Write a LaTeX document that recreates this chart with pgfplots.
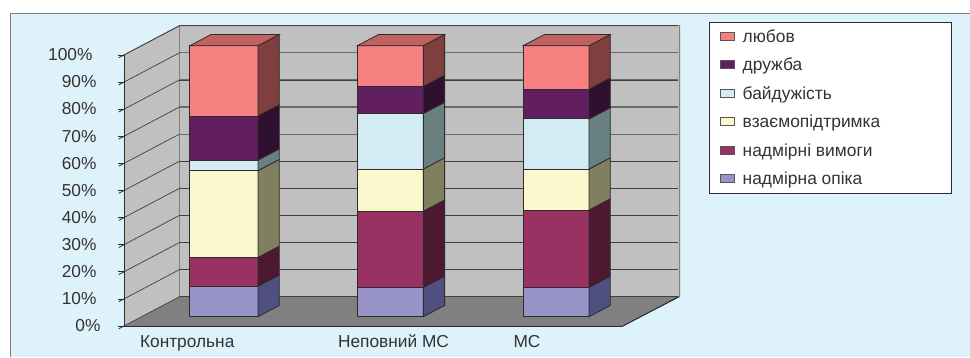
\documentclass[border=0pt]{standalone}
\usepackage{fontspec}
\usepackage{pgfplots}
\pgfplotsset{compat=1.18}
\setmainfont{Liberation Sans}
\definecolor{panel}{HTML}{DDF2FA}
\definecolor{wall}{HTML}{C0C0C0}
\definecolor{floorc}{HTML}{808080}
\definecolor{edge}{HTML}{2E2A2E}
\definecolor{txt}{HTML}{333333}
\definecolor{lovF}{HTML}{F78080}\definecolor{lovS}{HTML}{7F3F3F}\definecolor{lovT}{HTML}{C2625E}
\definecolor{druF}{HTML}{611F5F}\definecolor{druS}{HTML}{30102F}
\definecolor{baiF}{HTML}{D3ECF3}\definecolor{baiS}{HTML}{688080}
\definecolor{vzaF}{HTML}{FBF8CD}\definecolor{vzaS}{HTML}{808060}
\definecolor{vymF}{HTML}{993162}\definecolor{vymS}{HTML}{4D1931}
\definecolor{opiF}{HTML}{9894C7}\definecolor{opiS}{HTML}{4F4F80}
% One stacked segment: x from, x to, lower and upper percentage, front and side colours
\newcommand{\segment}[6]{%
  \addplot3[draw=edge,line width=0.8pt,fill=#5,forget plot] coordinates {(#1,0.317,#3)(#2,0.317,#3)(#2,0.317,#4)(#1,0.317,#4)} -- cycle;
  \addplot3[draw=edge,line width=0.8pt,fill=#6,forget plot] coordinates {(#2,0.317,#3)(#2,0.70,#3)(#2,0.70,#4)(#2,0.317,#4)} -- cycle;
}
% Lid of a column at 100%
\newcommand{\lid}[2]{%
  \addplot3[draw=edge,line width=0.8pt,fill=lovT,forget plot] coordinates {(#1,0.317,100)(#2,0.317,100)(#2,0.70,100)(#1,0.70,100)} -- cycle;
}
\newcommand{\swatch}[1]{\addlegendimage{legend image code/.code={\draw[draw=edge!80,line width=0.7pt,fill=#1] (-1.5pt,-3.4pt) rectangle (13pt,4.6pt);\path (19pt,0pt);}}}
\newcommand{\gapA}{\rule{4pt}{0pt}}
\newcommand{\gapB}{\rule{8pt}{0pt}}
\begin{document}
\begin{tikzpicture}[x=1pt,y=1pt]
\path[use as bounding box,fill=white] (0,0) rectangle (970,357);
% panel behind the chart
\fill[panel] (10.5,0) rectangle (970,344);
\draw[gray,line width=0.9pt] (10.5,0) -- (10.5,344) -- (970,344);
% walls and floor of the chart box
\fill[wall] (124,31) -- (179.5,60.3) -- (179.5,331.3) -- (124,302) -- cycle;
\fill[wall] (179.5,60.3) rectangle (679.5,331.3);
\fill[floorc] (124,31) -- (179.5,60.3) -- (679.5,60.3) -- (623,31) -- cycle;
\draw[gray,line width=1pt] (124,302) -- (179.5,331.3) -- (679.5,331.3) -- (679.5,60.3);
\draw[gray,line width=1pt] (179.5,60.3) -- (179.5,331.3);
\draw[edge,line width=0.6pt] (623,31) -- (679.5,60.3);
% legend box
\draw[edge,fill=white,line width=0.7pt] (709,163.7) rectangle (951,334.7);
\begin{axis}[
  at={(124pt,31pt)},anchor=origin,
  x={(166.33pt,0pt)},y={(55.5pt,29.3pt)},z={(0pt,2.71pt)},
  xmin=0,xmax=3,ymin=0,ymax=1,zmin=0,zmax=100,
  clip=false,
  axis lines=left,
  axis line style={-,draw=edge,line width=0.8pt},
  tick style={draw=edge,line width=0.8pt},
  tick align=outside,
  major tick length=6pt,
  ytick=\empty,
  ztick={0,10,...,100},
  zticklabels={0\%,10\%\gapA,20\%\gapA,30\%\gapA,40\%\gapA,50\%\gapA,60\%\gapA,70\%\gapA,80\%\gapA,90\%\gapA,100\%\gapB},
  z tick label style={anchor=east,inner sep=0pt,xshift=-18pt,yshift=3pt,text=txt,font=\fontsize{17.3}{19}\selectfont},
  zmajorgrids=true,
  grid style={draw=black!75,line width=0.7pt},
  xtick={0.412,1.652,2.455},
  xticklabels={Контрольна,Неповний МС,МС},
  xtick style={draw=none},
  x tick label style={anchor=base,yshift=-19pt,text=txt,font=\fontsize{17.3}{19}\selectfont},
  extra x ticks={0,1,2,3},
  extra x tick labels={},
  extra tick style={draw=edge,line width=0.8pt},
  legend cell align=left,
  legend style={
    at={(axis cs:3.58,0,110.2)},anchor=north west,draw=none,fill=none,
    font=\fontsize{17.4}{19}\selectfont,text=txt,
    row sep=10.2pt,inner sep=0pt},
]
\swatch{lovF}\addlegendentry{любов}
\swatch{druF}\addlegendentry{дружба}
\swatch{baiF}\addlegendentry{байдужість}
\swatch{vzaF}\addlegendentry{взаємопідтримка}
\swatch{vymF}\addlegendentry{надмірні вимоги}
\swatch{opiF}\addlegendentry{надмірна опіка}
% Upper grid lines on the back wall are lighter and wider
\draw[draw=black!58,line width=1.1pt] (axis cs:0,1,60) -- (axis cs:3,1,60);
\draw[draw=black!58,line width=1.1pt] (axis cs:0,1,70) -- (axis cs:3,1,70);
\draw[draw=black!58,line width=1.1pt] (axis cs:0,1,80) -- (axis cs:3,1,80);
\draw[draw=black!58,line width=1.1pt] (axis cs:0,1,90) -- (axis cs:3,1,90);
% Контрольна
\segment{0.29}{0.70}{0}{11.3}{opiF}{opiS}
\segment{0.29}{0.70}{11.3}{21.9}{vymF}{vymS}
\segment{0.29}{0.70}{21.9}{53.9}{vzaF}{vzaS}
\segment{0.29}{0.70}{53.9}{57.8}{baiF}{baiS}
\segment{0.29}{0.70}{57.8}{74.1}{druF}{druS}
\segment{0.29}{0.70}{74.1}{100}{lovF}{lovS}
\lid{0.29}{0.70}
% Неповний МС
\segment{1.297}{1.694}{0}{10.85}{opiF}{opiS}
\segment{1.297}{1.694}{10.85}{38.95}{vymF}{vymS}
\segment{1.297}{1.694}{38.95}{54.5}{vzaF}{vzaS}
\segment{1.297}{1.694}{54.5}{75}{baiF}{baiS}
\segment{1.297}{1.694}{75}{85}{druF}{druS}
\segment{1.297}{1.694}{85}{100}{lovF}{lovS}
\lid{1.297}{1.694}
% МС
\segment{2.294}{2.69}{0}{10.85}{opiF}{opiS}
\segment{2.294}{2.69}{10.85}{39.4}{vymF}{vymS}
\segment{2.294}{2.69}{39.4}{54.5}{vzaF}{vzaS}
\segment{2.294}{2.69}{54.5}{73}{baiF}{baiS}
\segment{2.294}{2.69}{73}{84}{druF}{druS}
\segment{2.294}{2.69}{84}{100}{lovF}{lovS}
\lid{2.294}{2.69}
\end{axis}
\end{tikzpicture}
\end{document}
